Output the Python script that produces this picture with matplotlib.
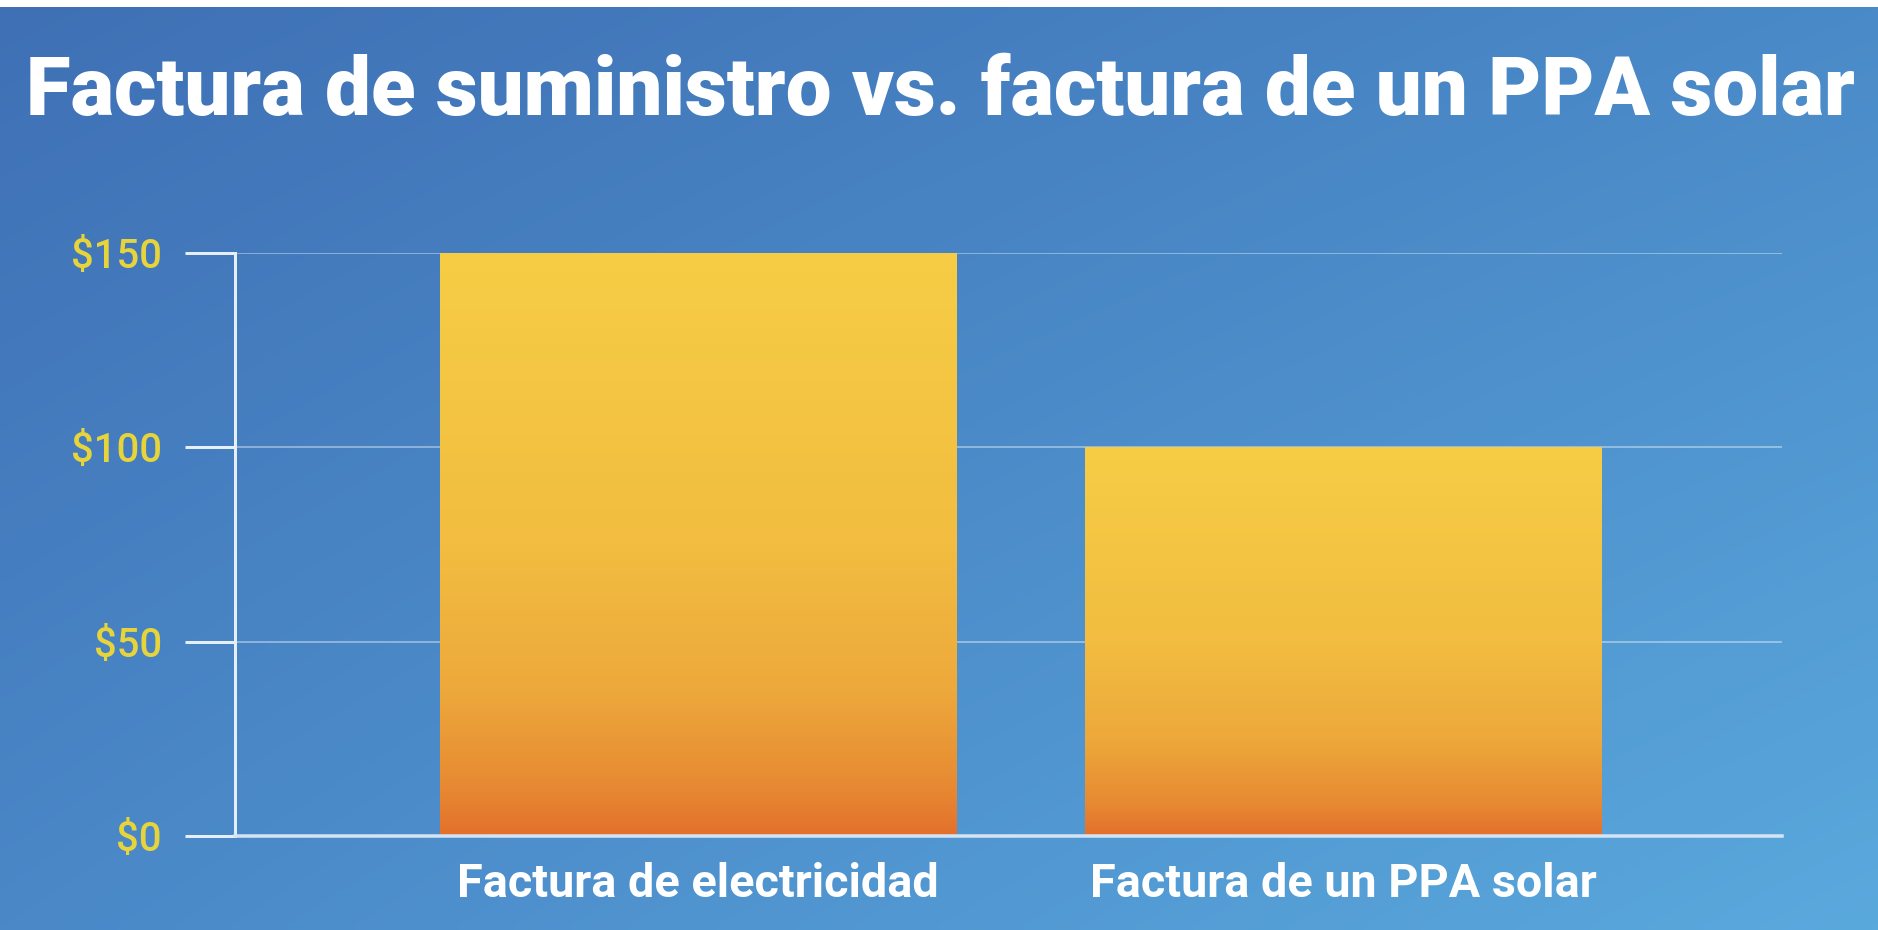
import numpy as np
import matplotlib
matplotlib.use("Agg")
import matplotlib.pyplot as plt
from matplotlib.colors import LinearSegmentedColormap, to_rgb

# ---- data ----
categories = ["Factura de electricidad", "Factura de un PPA solar"]
values = [150, 100]
yticks = [0, 50, 100, 150]
ytick_labels = ["$0", "$50", "$100", "$150"]
title = "Factura de suministro vs. factura de un PPA solar"

W, H, DPI = 1878, 930, 100
fig = plt.figure(figsize=(W / DPI, H / DPI), dpi=DPI)
fig.patch.set_facecolor("white")

# ---- background gradient (bilinear between four corners) ----
bg = fig.add_axes([0, 0, 1, 1 - 7 / H], zorder=-10)
tl, tr = np.array(to_rgb("#3f70b5")), np.array(to_rgb("#4a8ac8"))
bl, br = np.array(to_rgb("#4a88c8")), np.array(to_rgb("#5aa9dd"))
nx, ny = 200, 100
u = np.linspace(0, 1, nx)[None, :, None]
v = np.linspace(0, 1, ny)[:, None, None]
img = (1 - v) * ((1 - u) * tl + u * tr) + v * ((1 - u) * bl + u * br)
bg.imshow(img, aspect="auto", extent=[0, 1, 0, 1], interpolation="bilinear")
bg.set_axis_off()

# ---- main axes ----
L, R, B, T = 235, 1782, 836, 253
ax = fig.add_axes([L / W, 1 - B / H, (R - L) / W, (B - T) / H])
ax.patch.set_alpha(0)
x = np.arange(len(categories))
bars = ax.bar(x, values, width=0.8, facecolor="none", edgecolor="none", zorder=3)

bar_cmap = LinearSegmentedColormap.from_list(
    "bar",
    [(0.0, "#e3702c"), (0.08, "#e78932"), (0.25, "#eda93b"),
     (0.5, "#f2bd40"), (1.0, "#f6cd45")])
grad = np.linspace(1, 0, 256)[:, None]
for b in bars:
    x0, y0 = b.get_x(), b.get_y()
    im = ax.imshow(grad, cmap=bar_cmap, vmin=0, vmax=1, aspect="auto",
                   extent=[x0, x0 + b.get_width(), y0, y0 + b.get_height()],
                   interpolation="bilinear", zorder=3)
    im.set_clip_path(b)
ax.set_xlim(-0.718, 1.68)
ax.set_ylim(0, 150)

for yv in yticks[1:]:
    ax.axhline(yv, color="white", alpha=0.38, lw=2.0 * 0.72, zorder=1)

for s in ["top", "right"]:
    ax.spines[s].set_visible(False)
ax.spines["left"].set_color("#e6eef8")
ax.spines["left"].set_linewidth(3 * 0.72)
ax.spines["bottom"].set_color("#d5e4f4")
ax.spines["bottom"].set_linewidth(3.5 * 0.72)
ax.spines["bottom"].set_zorder(4)

ax.set_yticks(yticks)
ax.set_yticklabels(ytick_labels)
ax.tick_params(axis="y", length=50 * 0.72, width=3 * 0.72, color="#e6eef8",
               pad=23 * 0.72, labelcolor="#e6d43a")
ax.set_xticks(x)
ax.set_xticklabels(categories)
ax.tick_params(axis="x", length=0, pad=26 * 0.72, labelcolor="white")

renderer = fig.canvas.get_renderer()

def fit(t, target_w):
    fs = t.get_fontsize()
    w = t.get_window_extent(renderer).width
    t.set_fontsize(fs * target_w / w)

for t in ax.get_yticklabels():
    t.set_family("Roboto")
    t.set_fontweight("medium")
    t.set_fontsize(20)
fit(ax.get_yticklabels()[3], 91)
fs = ax.get_yticklabels()[3].get_fontsize()
for t in ax.get_yticklabels():
    t.set_fontsize(fs)

for t in ax.get_xticklabels():
    t.set_family("Roboto")
    t.set_fontweight("bold")
    t.set_fontsize(28)
fit(ax.get_xticklabels()[0], 481)
fs = ax.get_xticklabels()[0].get_fontsize()
for t in ax.get_xticklabels():
    t.set_fontsize(fs)

tt = fig.text(26 / W, 1 - 115 / H, title, color="white", ha="left", va="baseline",
              fontsize=50, fontweight="heavy", family="Roboto")
fit(tt, 1830)

fig.savefig("out.png", dpi=DPI)
